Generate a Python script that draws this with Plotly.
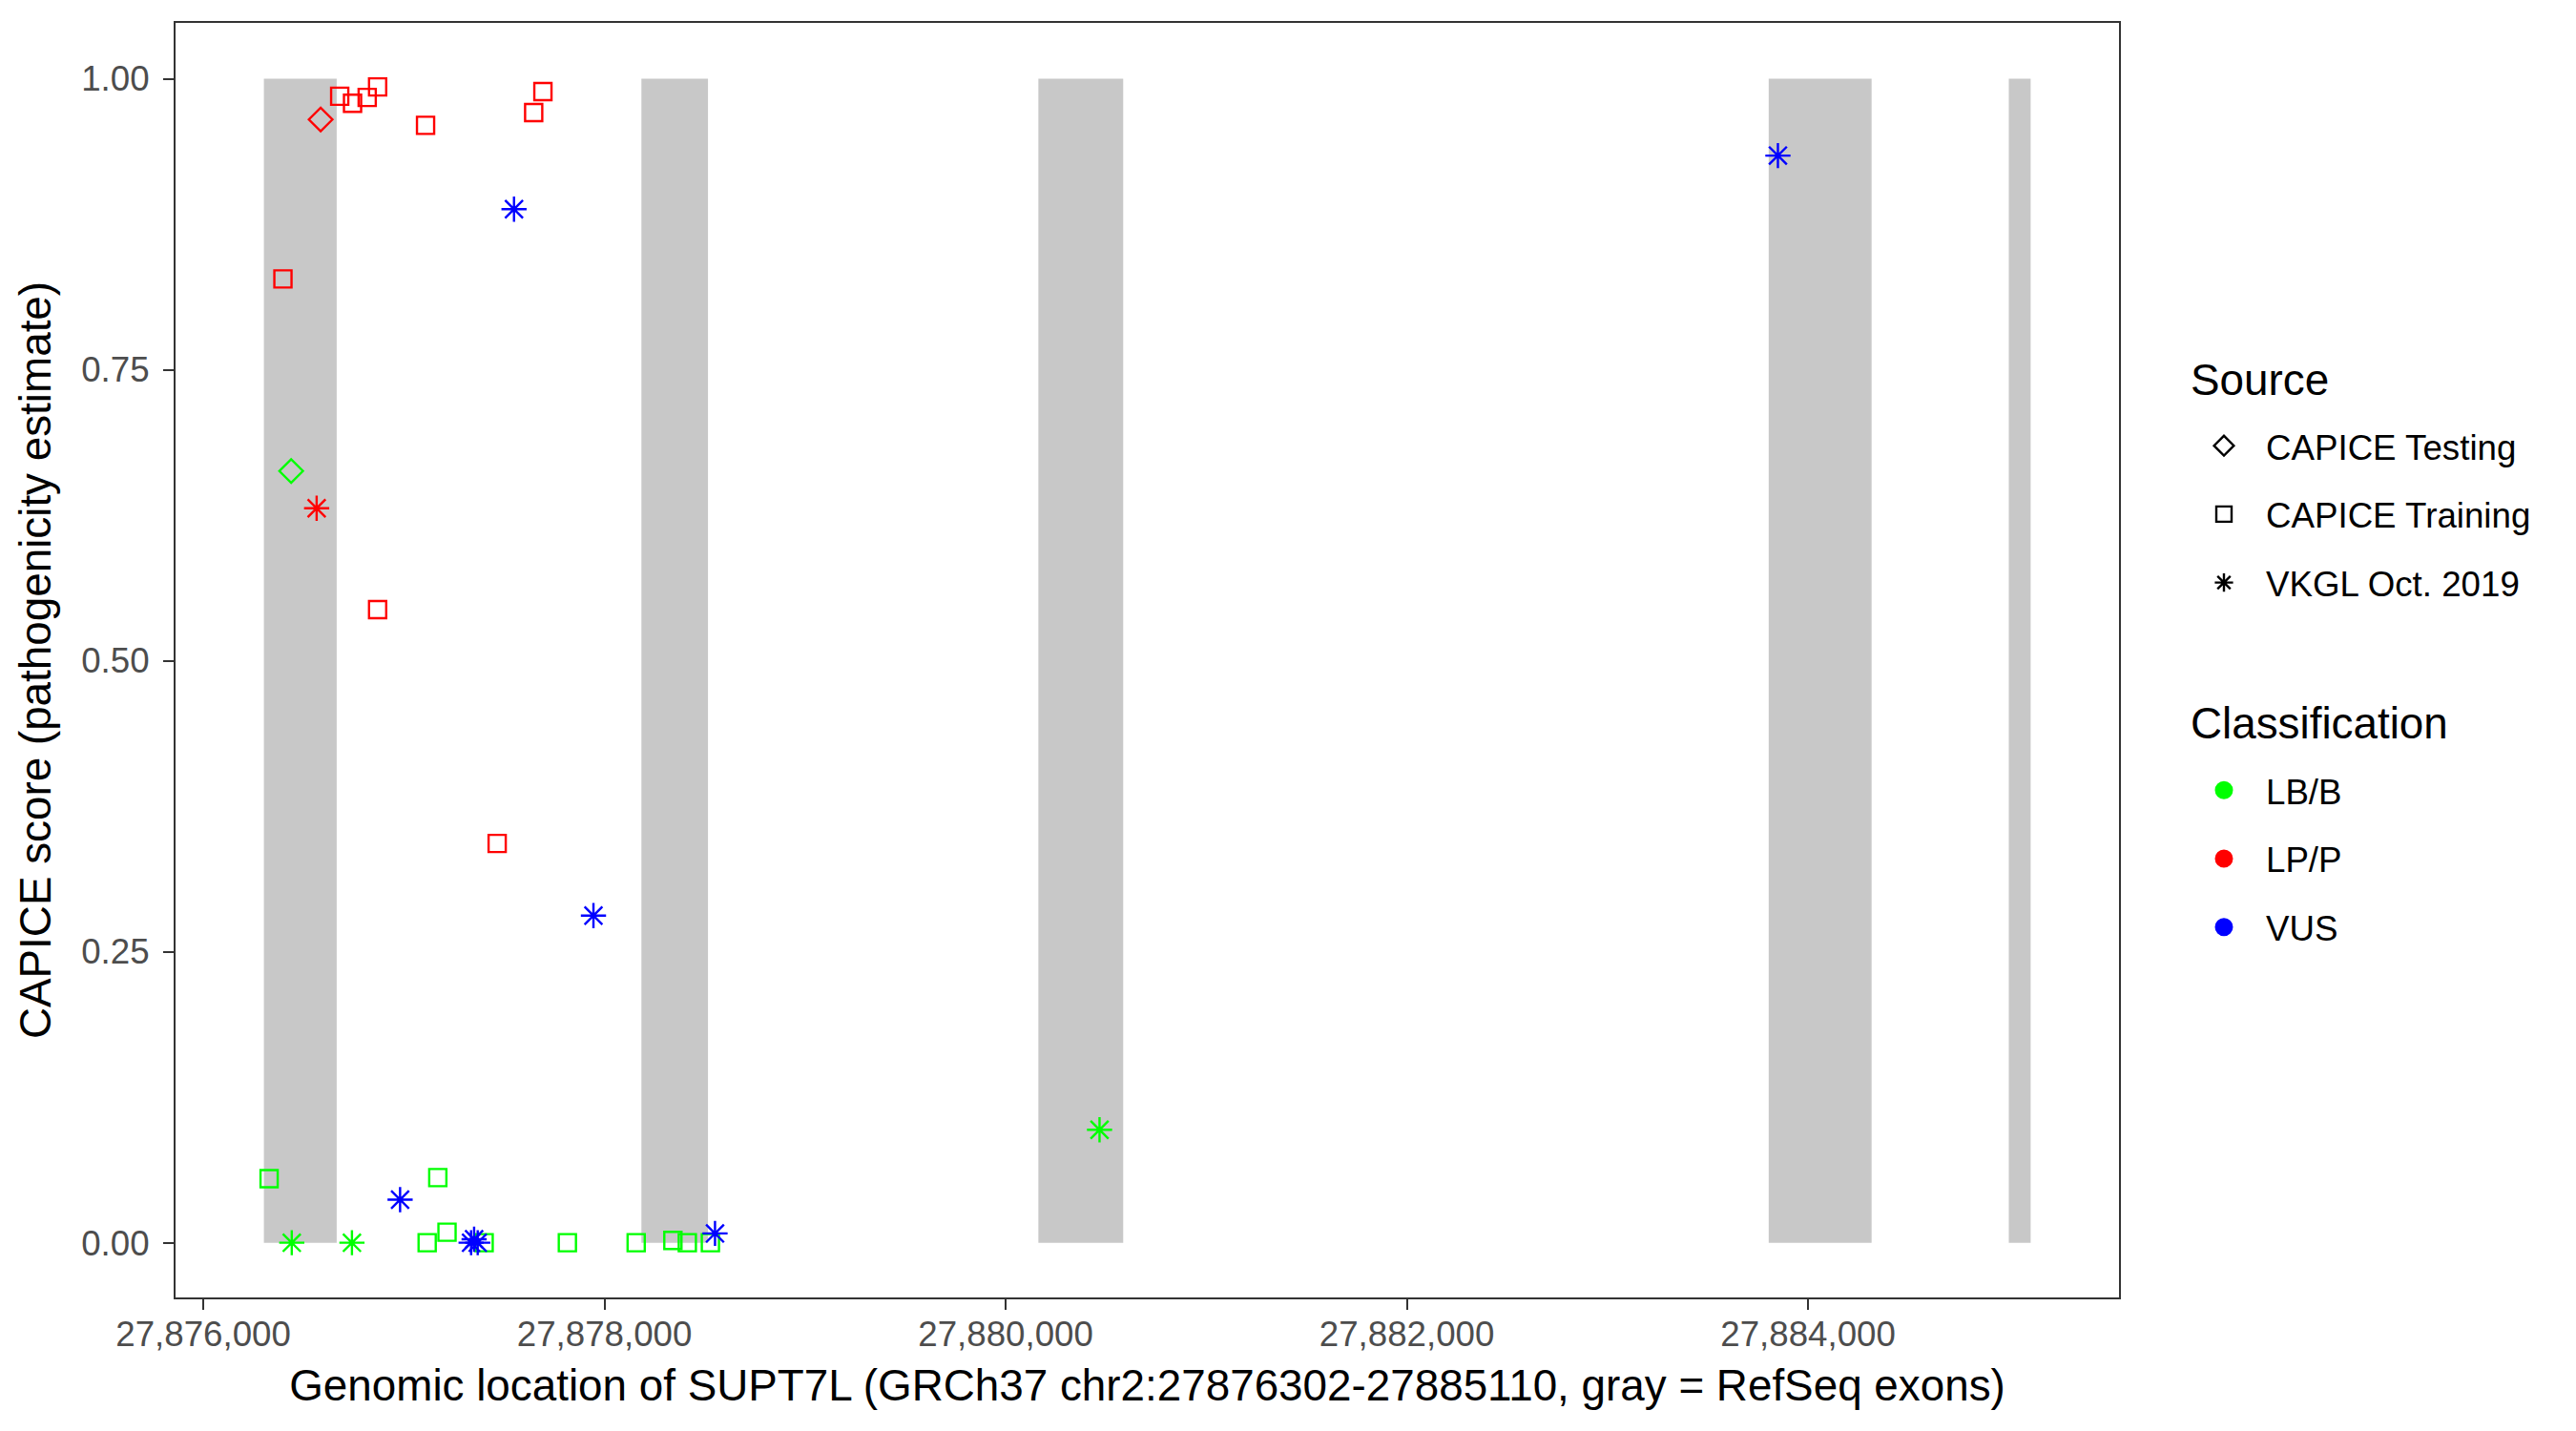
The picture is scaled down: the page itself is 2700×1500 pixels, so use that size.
import plotly.graph_objects as go

# ---------------- data ----------------
exon_starts = [27876302, 27878184, 27880163, 27883804, 27885001]
exon_ends = [27876665, 27878516, 27880586, 27884317, 27885110]

# CAPICE Testing
test_lp_pos = [27876585]
test_lp_score = [0.965]
test_lb_pos = [27876438]
test_lb_score = [0.663]

# CAPICE Training
train_lp_pos = [27876397, 27876680, 27876744, 27876817, 27876869, 27876869,
                27877108, 27877465, 27877647, 27877693]
train_lp_score = [0.828, 0.985, 0.979, 0.984, 0.993, 0.544,
                  0.960, 0.343, 0.971, 0.989]
train_lb_pos = [27876328, 27877116, 27877169, 27877215, 27877400, 27877815,
                27878158, 27878341, 27878413, 27878528]
train_lb_score = [0.055, 0.0, 0.056, 0.009, 0.0, 0.0,
                  0.0, 0.002, 0.0, 0.0]

# VKGL Oct. 2019
vkgl_lb_pos = [27876441, 27876741, 27880468]
vkgl_lb_score = [0.0, 0.0, 0.097]
vkgl_lp_pos = [27876565]
vkgl_lp_score = [0.631]
vkgl_vus_pos = [27876981, 27877335, 27877350, 27877368, 27877549, 27877945,
                27878551, 27883850]
vkgl_vus_score = [0.037, 0.0, 0.003, 0.0, 0.888, 0.281, 0.008, 0.934]

source_labels = ["CAPICE Testing", "CAPICE Training", "VKGL Oct. 2019"]
class_labels = ["LB/B", "LP/P", "VUS"]
legend_titles = ["Source", "Classification"]

x_ticks = [27876000, 27878000, 27880000, 27882000, 27884000]
y_ticks = [0.0, 0.25, 0.5, 0.75, 1.0]

gene_start, gene_end = 27876302, 27885110

# ---------------- styles ----------------
SYMBOLS = {"CAPICE Testing": "diamond-open", "CAPICE Training": "square-open",
           "VKGL Oct. 2019": "asterisk-open"}
COLORS = {"LB/B": "#00FF00", "LP/P": "#FF0000", "VUS": "#0000FF"}
SIZES = {"CAPICE Testing": 19, "CAPICE Training": 18, "VKGL Oct. 2019": 22}
FONT = "Liberation Sans, Arial, Helvetica, sans-serif"
TICK_FS = 36.7
TITLE_FS = 45.8

fig = go.Figure()

groups = [
    ("CAPICE Training", "LB/B", train_lb_pos, train_lb_score),
    ("CAPICE Training", "LP/P", train_lp_pos, train_lp_score),
    ("CAPICE Testing", "LB/B", test_lb_pos, test_lb_score),
    ("CAPICE Testing", "LP/P", test_lp_pos, test_lp_score),
    ("VKGL Oct. 2019", "LB/B", vkgl_lb_pos, vkgl_lb_score),
    ("VKGL Oct. 2019", "LP/P", vkgl_lp_pos, vkgl_lp_score),
    ("VKGL Oct. 2019", "VUS", vkgl_vus_pos, vkgl_vus_score),
]
for src, cls, xs, ys in groups:
    fig.add_trace(go.Scatter(
        x=xs, y=ys, mode="markers", showlegend=False,
        name=f"{src} - {cls}",
        marker=dict(symbol=SYMBOLS[src], size=SIZES[src], color=COLORS[cls],
                    line=dict(width=2.4, color=COLORS[cls])),
    ))

# legend entries: Source (shapes) and Classification (colours)
for i, src in enumerate(source_labels):
    fig.add_trace(go.Scatter(
        x=[None], y=[None], mode="markers", name=src, legend="legend",
        legendgroup=f"src{i}", showlegend=True,
        marker=dict(symbol=SYMBOLS[src], size=16, color="black",
                    line=dict(width=2.4, color="black")),
    ))
for i, cls in enumerate(class_labels):
    fig.add_trace(go.Scatter(
        x=[None], y=[None], mode="markers", name=cls, legend="legend2",
        legendgroup=f"cls{i}", showlegend=True,
        marker=dict(symbol="circle", size=16, color=COLORS[cls],
                    line=dict(width=3, color=COLORS[cls])),
    ))

# exons as gray rectangles in data coordinates
for s, e in zip(exon_starts, exon_ends):
    fig.add_shape(type="rect", xref="x", yref="y", x0=s, x1=e, y0=0, y1=1,
                  fillcolor="#C8C8C8", line=dict(width=0), layer="below")

span = gene_end - gene_start
x_range = [gene_start - 0.05 * span, gene_end + 0.05 * span]

axis_common = dict(
    showgrid=False, zeroline=False, showline=True, mirror=True,
    linecolor="#333333", linewidth=2.2,
    ticks="outside", ticklen=11, tickwidth=2.2, tickcolor="#333333",
    tickfont=dict(family=FONT, size=TICK_FS, color="#4D4D4D"),
)

# legend titles as text annotations
for title, ypos in zip(legend_titles, [0.72, 0.45]):
    fig.add_annotation(text=title, xref="paper", yref="paper",
                       x=1.0358, y=ypos, xanchor="left", yanchor="middle",
                       showarrow=False,
                       font=dict(family=FONT, size=TITLE_FS, color="black"))

fig.update_layout(
    width=2700, height=1500,
    margin=dict(l=176, r=487, t=16, b=148),
    paper_bgcolor="white", plot_bgcolor="white",
    font=dict(family=FONT, color="black"),
    xaxis=dict(range=x_range, tickvals=x_ticks, tickformat=",d",
               ticklabelstandoff=-6,
               title=dict(text="Genomic location of SUPT7L (GRCh37 chr2:27876302-27885110, gray = RefSeq exons)",
                          font=dict(family=FONT, size=TITLE_FS, color="black"),
                          standoff=18),
               **axis_common),
    yaxis=dict(range=[-0.047, 1.048], tickvals=y_ticks, tickformat=".2f",
               ticklabelstandoff=7,
               title=dict(text="CAPICE score (pathogenicity estimate)",
                          font=dict(family=FONT, size=TITLE_FS, color="black"),
                          standoff=17),
               **axis_common),
    legend=dict(
        font=dict(family=FONT, size=TICK_FS, color="black"),
        x=1.0324, xanchor="left", y=0.691, yanchor="top",
        tracegroupgap=21, bgcolor="rgba(0,0,0,0)", itemwidth=78,
    ),
    legend2=dict(
        font=dict(family=FONT, size=TICK_FS, color="black"),
        x=1.0324, xanchor="left", y=0.4207, yanchor="top",
        tracegroupgap=21, bgcolor="rgba(0,0,0,0)", itemwidth=78,
    ),
)

fig.write_html("out.html")
